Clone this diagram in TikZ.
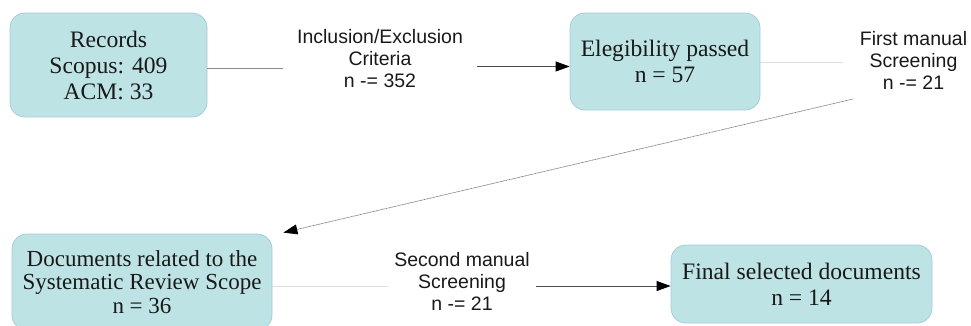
\documentclass[tikz,border=0pt]{standalone}
\usepackage{fontspec}
\setmainfont{Liberation Serif}
\setsansfont{Liberation Sans}
\usetikzlibrary{arrows.meta}
\definecolor{boxfill}{RGB}{189,227,228}
\definecolor{boxline}{RGB}{165,205,220}
\definecolor{ink}{RGB}{25,25,25}
\begin{document}
\begin{tikzpicture}[x=1pt,y=-1pt,
  stage/.style={draw=boxline, fill=boxfill, rounded corners=15pt, align=center,
    text=ink, font=\fontsize{23.6}{26}\selectfont, inner sep=0pt, line width=0.8pt},
  crit/.style={align=center, text=ink, font=\sffamily\fontsize{19.5}{22}\selectfont,
    inner ysep=4pt},
  faint/.style={draw=black!13, line width=0.9pt},
  mid/.style={draw=black!45, line width=0.8pt},
  flow/.style={draw=black!70, line width=0.8pt, -{Triangle[length=14pt,width=10pt,color=black]}},
  back/.style={draw=black!50, line width=0.7pt, dash pattern=on 1pt off 0.5pt,
    -{Triangle[length=14pt,width=10pt,color=black]}}
]
\useasboundingbox (0,0) rectangle (971,325);

% stages
\node[stage, minimum width=197pt, minimum height=104pt] (rec) at (108.5,65)
  {Records\\Scopus: 409\\ACM: 33};
\node[stage, minimum width=190pt, minimum height=97pt] (elig) at (665,61.5)
  {Elegibility passed\\n = 57};
\node[stage, minimum width=260pt, minimum height=96pt, font=\fontsize{23}{23.5}\selectfont]
  (docs) at (142,282)
  {Documents related to the\\Systematic Review Scope\\n = 36};
\node[stage, minimum width=261pt, minimum height=78pt] (final) at (801.5,284)
  {Final selected documents\\n = 14};

% screening steps
\node[crit, inner xsep=14pt] (crit1) at (380,58.5)
  {Inclusion/Exclusion\\Criteria\\n -= 352};
\node[crit, inner xsep=17pt] (crit2) at (913.5,60)
  {First manual\\Screening\\n -= 21};
\node[crit, inner xsep=6.5pt] (crit3) at (462,281)
  {Second manual\\Screening\\n -= 21};
\coordinate (turn) at (853,99);

% connectors
\draw[mid] ([yshift=-3.5pt]rec.east) -- ([yshift=-3.5pt]rec.east -| crit1.west);
\draw[flow] ([yshift=-5pt]elig.west -| crit1.east) -- ([yshift=-5pt]elig.west);
\draw[faint] ([yshift=-0.5pt]elig.east) -- ([yshift=-0.5pt]elig.east -| crit2.west);
\draw[back] (turn) -- ([xshift=11pt,yshift=1pt]docs.north east);
\draw[faint] ([yshift=-4pt]docs.east) -- ([yshift=-4pt]docs.east -| crit3.west);
\draw[flow] ([yshift=-2pt]final.west -| crit3.east) -- ([yshift=-2pt]final.west);
\end{tikzpicture}
\end{document}
